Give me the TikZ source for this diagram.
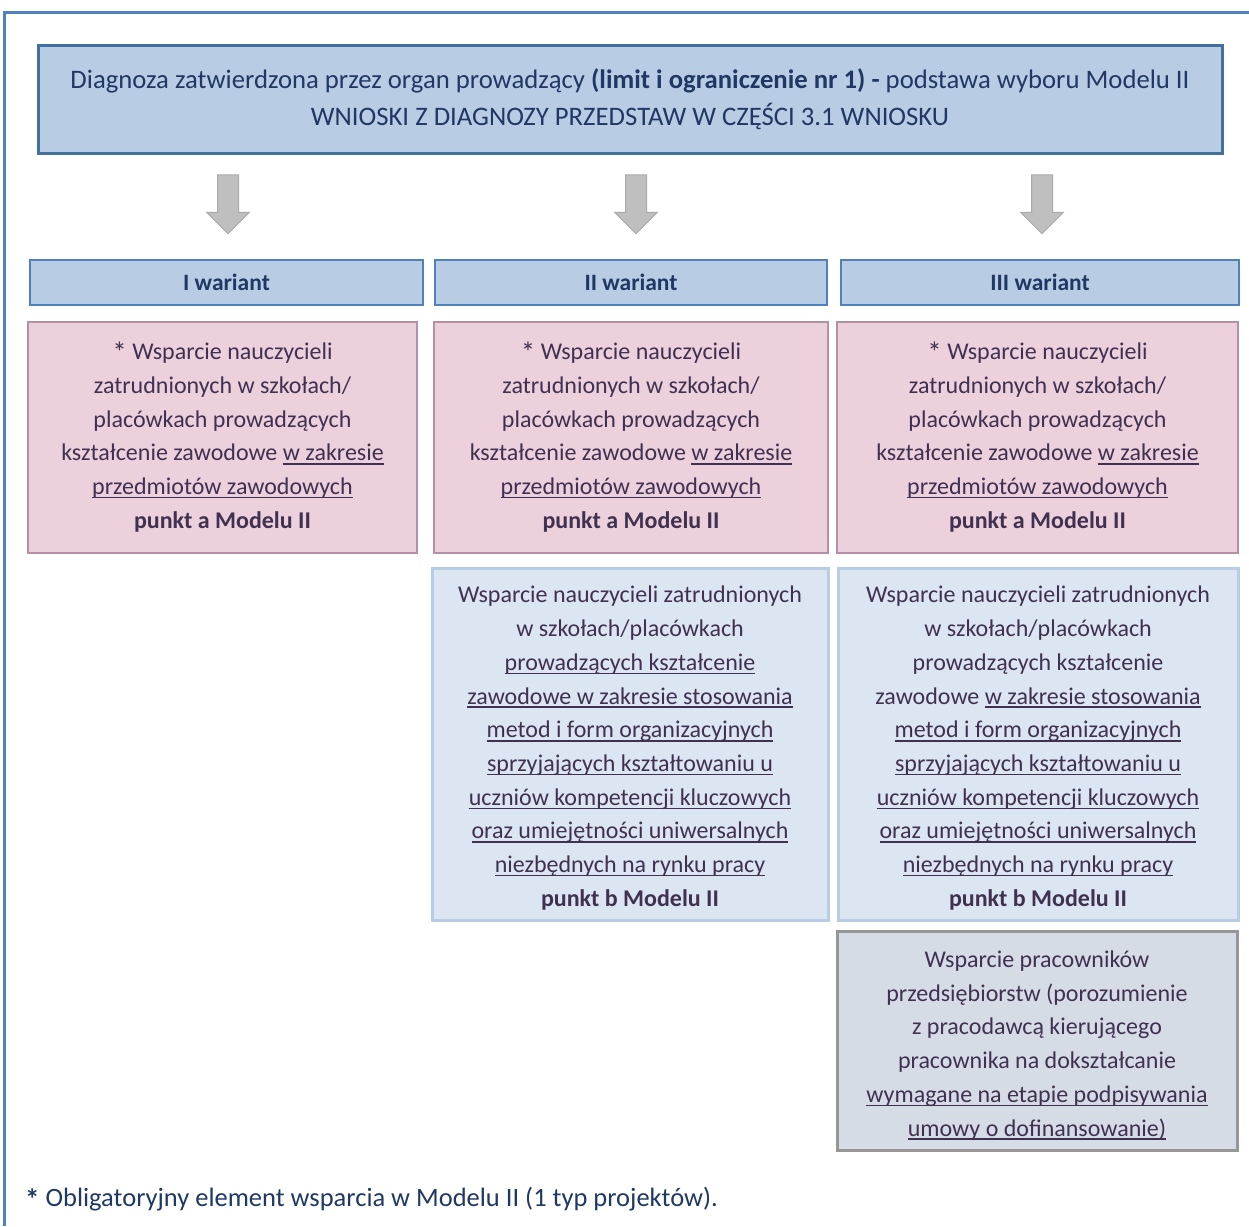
\documentclass[tikz,border=0pt]{standalone}
\usepackage{fontspec}
\setmainfont{Carlito}
\usetikzlibrary{shapes.arrows}

\definecolor{frameblue}{RGB}{79, 129, 189}
\definecolor{topedge}{RGB}{65, 113, 156}
\definecolor{headfill}{RGB}{184, 204, 228}
\definecolor{navytext}{RGB}{31, 56, 100}
\definecolor{plumtext}{RGB}{64, 49, 81}
\definecolor{pinkfill}{RGB}{236, 208, 220}
\definecolor{pinkedge}{RGB}{180, 144, 166}
\definecolor{bluefill}{RGB}{220, 230, 242}
\definecolor{blueedge}{RGB}{184, 204, 228}
\definecolor{grayfill}{RGB}{214, 220, 229}
\definecolor{grayedge}{RGB}{150, 150, 150}
\definecolor{arrowfill}{RGB}{191, 191, 191}
\definecolor{arrowedge}{RGB}{170, 170, 170}

\tikzset{
  boxtext/.style={align=center, inner sep=0pt, font=\fontsize{24}{33.7}\selectfont, text=plumtext},
  topbox/.style={draw=topedge, line width=3pt, fill=headfill, minimum width=1184pt, minimum height=108pt, align=center, font=\fontsize{26.7}{37}\selectfont, text=navytext},
  variantbox/.style={draw=frameblue, line width=2.5pt, fill=headfill, minimum height=45pt, inner sep=0pt, font=\fontsize{23.5}{26}\selectfont\bfseries, text=navytext},
  pinkbox/.style={boxtext, draw=pinkedge, line width=2pt, fill=pinkfill, minimum height=231pt},
  bluebox/.style={boxtext, draw=blueedge, line width=3pt, fill=bluefill, minimum height=352pt},
  graybox/.style={boxtext, draw=grayedge, line width=3pt, fill=grayfill, minimum height=219pt},
  downarrow/.style={single arrow, shape border rotate=270, draw=arrowedge, line width=1pt, fill=arrowfill, minimum height=59pt, minimum width=42pt, inner sep=10pt, single arrow head extend=11pt}
}

% underline at a fixed depth
\newcommand{\podkr}[1]{\leavevmode\setbox0\hbox{#1}\rlap{\vrule width\wd0 height -2.4pt depth 3.8pt}\box0}
\newcommand{\gwiazdka}{\smash{\raisebox{-3pt}{\fontsize{29}{33.7}\selectfont *}}}

\newcommand{\punktA}{\gwiazdka\ Wsparcie nauczycieli\\zatrudnionych w szkołach/\\placówkach prowadzących\\kształcenie zawodowe \podkr{w zakresie}\\\podkr{przedmiotów zawodowych}\\\textbf{punkt a Modelu II}}
\newcommand{\punktBtail}{\podkr{metod i form organizacyjnych}\\\podkr{sprzyjających kształtowaniu u}\\\podkr{uczniów kompetencji kluczowych}\\\podkr{oraz umiejętności uniwersalnych}\\\podkr{niezbędnych na rynku pracy}\\\textbf{punkt b Modelu II}}

\begin{document}
\begin{tikzpicture}[x=1pt, y=-1pt]
  \useasboundingbox (0,0) rectangle (1249,1226);
  \draw[frameblue, line width=3pt] (4,1226) -- (4,12) -- (1249,12);

  % Diagnosis box
  \node[topbox] (diag) at (630,99) {Diagnoza zatwierdzona przez organ prowadzący \textbf{(limit i ograniczenie nr 1) -} podstawa wyboru Modelu II\\WNIOSKI Z DIAGNOZY PRZEDSTAW W CZĘŚCI 3.1 WNIOSKU};

  % Arrows
  \node[downarrow] (arrI) at (228,199) {};
  \node[downarrow] (arrII) at (636,199) {};
  \node[downarrow] (arrIII) at (1042,199) {};

  % Variants
  \node[variantbox, minimum width=393pt] (varI) at (226.5,282.5) {I wariant};
  \node[variantbox, minimum width=392pt] (varII) at (631,282.5) {II wariant};
  \node[variantbox, minimum width=398pt] (varIII) at (1040,282.5) {III wariant};

  % Point a
  \node[pinkbox, minimum width=389pt] (aI) at (222.5,437.5) {\punktA};
  \node[pinkbox, minimum width=394pt] (aII) at (631,437.5) {\punktA};
  \node[pinkbox, minimum width=401pt] (aIII) at (1037.5,437.5) {\punktA};

  % Point b
  \node[bluebox, minimum width=396pt] (bII) at (630,744) {\rule{0pt}{25pt}Wsparcie nauczycieli zatrudnionych\\w szkołach/placówkach\\\podkr{prowadzących kształcenie}\\\podkr{zawodowe w zakresie stosowania}\\\punktBtail};
  \node[bluebox, minimum width=400pt] (bIII) at (1038,744) {\rule{0pt}{25pt}Wsparcie nauczycieli zatrudnionych\\w szkołach/placówkach\\prowadzących kształcenie\\zawodowe \podkr{w zakresie stosowania}\\\punktBtail};

  % Employees
  \node[graybox, minimum width=400pt] (firms) at (1037,1040.5) {\rule{0pt}{26.5pt}Wsparcie pracowników\\przedsiębiorstw (porozumienie\\z pracodawcą kierującego\\pracownika na dokształcanie\\\podkr{wymagane na etapie podpisywania}\\\podkr{umowy o dofinansowanie)}};

  \node[anchor=west, inner sep=0pt, font=\fontsize{26.5}{30}\selectfont, text=navytext] (note) at (25,1199) {\textbf{\gwiazdka} Obligatoryjny element wsparcia w Modelu II (1 typ projektów).};
\end{tikzpicture}
\end{document}
